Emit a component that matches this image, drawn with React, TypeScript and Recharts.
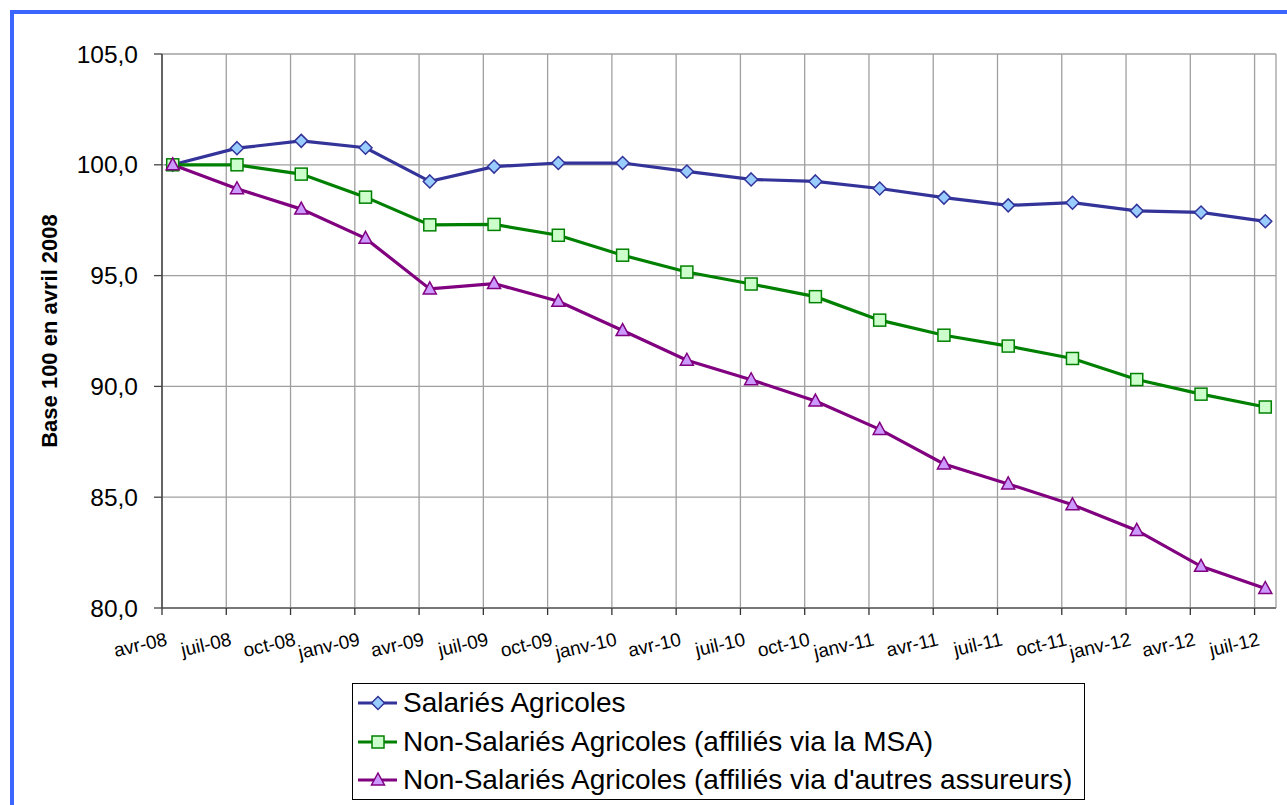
import React from 'react';
import { LineChart, Line, XAxis, YAxis, CartesianGrid, Legend } from 'recharts';

const months = ['avr-08', 'juil-08', 'oct-08', 'janv-09', 'avr-09', 'juil-09', 'oct-09', 'janv-10', 'avr-10', 'juil-10', 'oct-10', 'janv-11', 'avr-11', 'juil-11', 'oct-11', 'janv-12', 'avr-12', 'juil-12'];
const salaries = [100, 100.75, 101.08, 100.77, 99.25, 99.92, 100.08, 100.08, 99.7, 99.34, 99.25, 98.93, 98.52, 98.17, 98.29, 97.92, 97.85, 97.45];
const nsaMsa = [100, 100.0, 99.58, 98.54, 97.29, 97.31, 96.82, 95.92, 95.16, 94.62, 94.05, 92.99, 92.31, 91.82, 91.26, 90.31, 89.65, 89.07];
const nsaAutres = [100, 98.92, 98.0, 96.68, 94.4, 94.64, 93.84, 92.52, 91.18, 90.3, 89.34, 88.06, 86.5, 85.6, 84.66, 83.5, 81.88, 80.88];
const yTicks = [80, 85, 90, 95, 100, 105];
const seriesNames = [
  'Salariés Agricoles',
  'Non-Salariés Agricoles (affiliés via la MSA)',
  "Non-Salariés Agricoles (affiliés via d'autres assureurs)",
];

// month offset from avr-08 (points sit mid-month on a date axis)
const data = months.map((m, i) => ({
  m: i * 3 + 0.5,
  label: m,
  s1: salaries[i],
  s2: nsaMsa[i],
  s3: nsaAutres[i],
}));
const xTicks = months.map((_, i) => i * 3);

const FONT = '"Liberation Sans", Arial, Helvetica, sans-serif';

const COLORS = [
  { line: '#333399', fill: '#99CCFF', shape: 'diamond' },
  { line: '#008000', fill: '#CCFFCC', shape: 'square' },
  { line: '#800080', fill: '#CC99FF', shape: 'triangle' },
];

function Marker({ cx, cy, shape, fill, stroke }: any) {
  if (cx == null || cy == null) return null;
  if (shape === 'diamond') {
    const r = 6.5;
    return <path d={`M${cx},${cy - r}L${cx + r},${cy}L${cx},${cy + r}L${cx - r},${cy}Z`} fill={fill} stroke={stroke} strokeWidth={1.5} />;
  }
  if (shape === 'square') {
    const r = 6;
    return <rect x={cx - r} y={cy - r} width={2 * r} height={2 * r} fill={fill} stroke={stroke} strokeWidth={1.5} />;
  }
  const w = 6.5;
  return <path d={`M${cx},${cy - 7}L${cx + w},${cy + 5}L${cx - w},${cy + 5}Z`} fill={fill} stroke={stroke} strokeWidth={1.5} />;
}

const makeDot = (idx: number) => (props: any) => (
  <Marker key={`d${idx}-${props.index}`} cx={props.cx} cy={props.cy} shape={COLORS[idx].shape} fill={COLORS[idx].fill} stroke={COLORS[idx].line} />
);

const XTick = (props: any) => {
  const { x, y, payload } = props;
  const i = Math.round(payload.value / 3);
  const ex = x + 6;
  const ey = y + 30;
  return (
    <text x={ex} y={ey} textAnchor="end" transform={`rotate(-13, ${ex}, ${ey})`} fontSize={19} fontFamily={FONT} fill="#000">
      {months[i]}
    </text>
  );
};

const YLabel = (props: any) => {
  const vb = props.viewBox || {};
  const cx = vb.x + 39;
  const cy = vb.y + vb.height / 2;
  return (
    <text x={cx} y={cy} dy="0.35em" textAnchor="middle" transform={`rotate(-90, ${cx}, ${cy})`} fontSize={22} fontWeight="bold" fontFamily={FONT} fill="#000">
      Base 100 en avril 2008
    </text>
  );
};

const LegendContent = () => (
  <div
    style={{
      width: 733,
      height: 117,
      boxSizing: 'border-box',
      border: '1px solid #000',
      background: '#fff',
      paddingLeft: 4,
      fontFamily: FONT,
    }}
  >
    {seriesNames.map((name, i) => (
      <div key={name} style={{ height: 38.5, display: 'flex', alignItems: 'center' }}>
        <svg width={42} height={20} style={{ marginRight: 4, flex: 'none' }}>
          <line x1={1} y1={10} x2={40} y2={10} stroke={COLORS[i].line} strokeWidth={3} />
          <Marker cx={21} cy={10} shape={COLORS[i].shape} fill={COLORS[i].fill} stroke={COLORS[i].line} />
        </svg>
        <span style={{ fontSize: 28, color: '#000', whiteSpace: 'nowrap' }}>{name}</span>
      </div>
    ))}
  </div>
);

export default function App() {
  return (
    <div style={{ position: 'fixed', left: 0, top: 0, width: 1287, height: 805, overflow: 'hidden', background: '#fff' }}>
      <div
        style={{
          position: 'absolute',
          left: 10,
          top: 10,
          width: 1320,
          height: 840,
          border: '4px solid #3A66FF',
          boxSizing: 'border-box',
        }}
      />
      <div style={{ position: 'absolute', left: 0, top: 0 }}>
        <LineChart width={1287} height={805} data={data} margin={{ top: 54, right: 11, bottom: 137, left: 10 }}>
          <CartesianGrid stroke="#a0a0a0" strokeWidth={1.3} />
          <XAxis
            dataKey="m"
            type="number"
            domain={[0, 52]}
            ticks={xTicks}
            interval={0}
            height={60}
            tickSize={7}
            tickMargin={0}
            tick={<XTick />}
            axisLine={{ stroke: '#777', strokeWidth: 2 }}
            tickLine={{ stroke: '#333', strokeWidth: 1.3 }}
          />
          <YAxis
            type="number"
            domain={[80, 105]}
            ticks={yTicks}
            interval={0}
            width={152}
            tickSize={8}
            tickMargin={16}
            tickFormatter={(v: number) => v.toFixed(1).replace('.', ',')}
            tick={{ fontSize: 24.5, fontFamily: FONT, fill: '#000' }}
            axisLine={{ stroke: '#444', strokeWidth: 1.5 }}
            tickLine={{ stroke: '#444', strokeWidth: 1.3 }}
            label={<YLabel />}
          />
          <Legend
            layout="vertical"
            align="center"
            verticalAlign="middle"
            content={<LegendContent />}
            wrapperStyle={{ left: 352, top: 683, width: 733, height: 117, margin: 0 }}
          />
          <Line name={seriesNames[0]} dataKey="s1" stroke={COLORS[0].line} strokeWidth={3.2} dot={makeDot(0)} activeDot={false} isAnimationActive={false} />
          <Line name={seriesNames[1]} dataKey="s2" stroke={COLORS[1].line} strokeWidth={3.2} dot={makeDot(1)} activeDot={false} isAnimationActive={false} />
          <Line name={seriesNames[2]} dataKey="s3" stroke={COLORS[2].line} strokeWidth={3.2} dot={makeDot(2)} activeDot={false} isAnimationActive={false} />
        </LineChart>
      </div>
    </div>
  );
}
